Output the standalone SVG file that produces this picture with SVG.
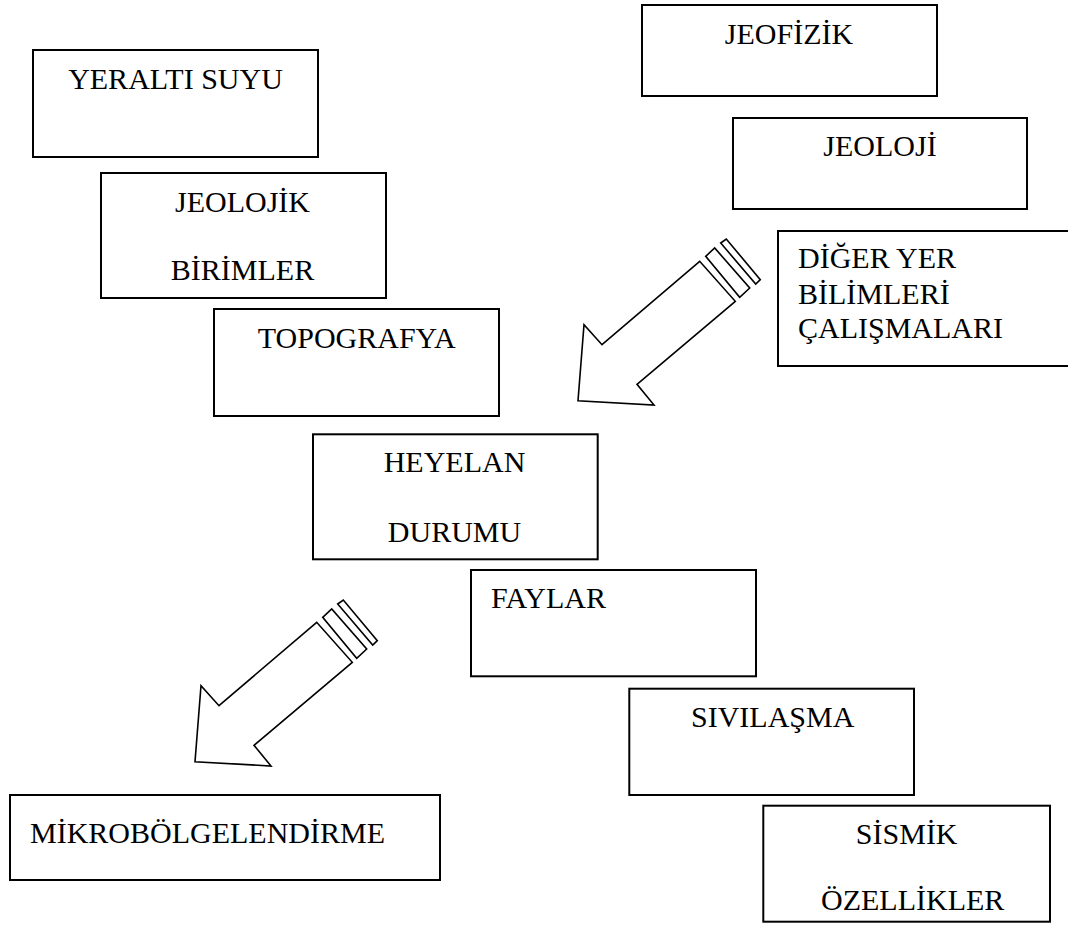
<svg xmlns="http://www.w3.org/2000/svg" width="1068" height="932" viewBox="0 0 1068 932">
<style>
.box{fill:#fff;stroke:#000;stroke-width:2}
.t{font-family:"Liberation Serif","Times New Roman",serif;font-size:30px;fill:#000}
.m{text-anchor:middle}
.arr{fill:#fff;stroke:#000;stroke-width:1.6;stroke-linejoin:miter}
</style>
<defs>
<g id="bigArrow">
<path class="arr" d="M316.7,622.3 L219,705.7 L201,685.7 L195,761.7 L271,766 L254,745.3 L352.3,662.3 Z"/>
<path class="arr" d="M322.7,617.3 L331.7,609 L366.7,649 L356.7,658.3 Z"/>
<path class="arr" d="M337.7,604 L343.3,600 L377.3,640.7 L372.7,645 Z"/>
</g>
</defs>
<rect width="1068" height="932" fill="#fff"/>
<g id="connectors">
<use href="#bigArrow" transform="translate(383,-361)"/>
<use href="#bigArrow"/>
</g>
<g id="yeralti">
<rect class="box" x="33" y="50" width="285" height="107"/>
<text class="t m" x="175.5" y="89">YERALTI SUYU</text>
</g>
<g id="jeolojik">
<rect class="box" x="101" y="173" width="285" height="125"/>
<text class="t m" x="242.5" y="212">JEOLOJİK</text>
<text class="t m" x="242.5" y="280">BİRİMLER</text>
</g>
<g id="topografya">
<rect class="box" x="214" y="309" width="285" height="107"/>
<text class="t m" x="356.7" y="347.7">TOPOGRAFYA</text>
</g>
<g id="jeofizik">
<rect class="box" x="642" y="5" width="295" height="91"/>
<text class="t m" x="789" y="44">JEOFİZİK</text>
</g>
<g id="jeoloji">
<rect class="box" x="733" y="118" width="294" height="91"/>
<text class="t m" x="880" y="156">JEOLOJİ</text>
</g>
<g id="diger">
<rect class="box" x="778" y="231" width="300" height="135"/>
<text class="t" x="798" y="268">DİĞER YER</text>
<text class="t" x="798" y="304">BİLİMLERİ</text>
<text class="t" x="798" y="338">ÇALIŞMALARI</text>
</g>
<g id="heyelan">
<rect class="box" x="313" y="434.3" width="284.7" height="125"/>
<text class="t m" x="454.5" y="472.3">HEYELAN</text>
<text class="t m" x="454.5" y="541.7">DURUMU</text>
</g>
<g id="faylar">
<rect class="box" x="471" y="570" width="285" height="106.3"/>
<text class="t" x="491" y="607.7">FAYLAR</text>
</g>
<g id="sivilasma">
<rect class="box" x="629.3" y="688.7" width="284.7" height="106.3"/>
<text class="t" x="691" y="726.7">SIVILAŞMA</text>
</g>
<g id="sismik">
<rect class="box" x="763.3" y="805.7" width="286.7" height="116"/>
<text class="t m" x="906.7" y="844">SİSMİK</text>
<text class="t m" x="912.7" y="910">ÖZELLİKLER</text>
</g>
<g id="mikro">
<rect class="box" x="10" y="795" width="430" height="85"/>
<text class="t" x="30" y="843.3">MİKROBÖLGELENDİRME</text>
</g>
</svg>
